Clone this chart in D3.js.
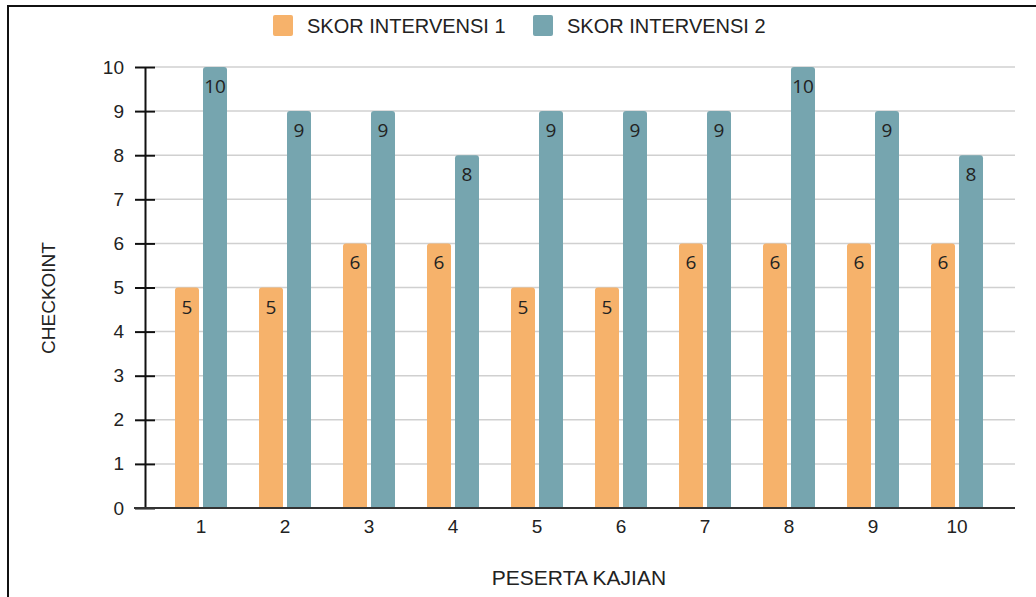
<!DOCTYPE html>
<html>
<head>
<meta charset="utf-8">
<script src="https://cdn.jsdelivr.net/npm/d3@7"></script>
<style>
  body { margin: 0; background: #fff; }
  svg { display: block; font-family: "Liberation Sans", Arial, sans-serif; }
</style>
</head>
<body>
<svg id="chart" width="1036" height="597"></svg>
<script>
// chart data
var participants = ["1", "2", "3", "4", "5", "6", "7", "8", "9", "10"];
var seriesNames = ["SKOR INTERVENSI 1", "SKOR INTERVENSI 2"];
var skor1 = [5, 5, 6, 6, 5, 5, 6, 6, 6, 6];
var skor2 = [10, 9, 9, 8, 9, 9, 9, 10, 9, 8];
var yTicks = [0, 1, 2, 3, 4, 5, 6, 7, 8, 9, 10];
var colors = ["#f6b26b", "#76a5af"];

var svg = d3.select("#chart");

// frame (picture is cropped, only top and left edges show)
svg.append("line").attr("x1", 8).attr("x2", 1036).attr("y1", 6).attr("y2", 6)
  .attr("stroke", "#111").attr("stroke-width", 2);
svg.append("line").attr("x1", 8).attr("x2", 8).attr("y1", 5).attr("y2", 597)
  .attr("stroke", "#111").attr("stroke-width", 2);

var plotLeft = 145, plotRight = 1015, plotTop = 67, plotBottom = 508;

var x = d3.scaleBand().domain(participants).range([159, 999]);
var y = d3.scaleLinear().domain([0, 10]).range([plotBottom, plotTop]);

// gridlines
svg.append("g").selectAll("line").data(yTicks.filter(d => d > 0)).enter()
  .append("line")
  .attr("x1", plotLeft + 10).attr("x2", plotRight)
  .attr("y1", d => y(d)).attr("y2", d => y(d))
  .attr("stroke", "#d0d0d0").attr("stroke-width", 1.5);

// y axis
var yAxis = svg.append("g")
  .attr("transform", `translate(${plotLeft},0)`)
  .call(d3.axisLeft(y).tickValues(yTicks).tickSizeInner(10).tickSizeOuter(0).tickPadding(12));
yAxis.select(".domain").attr("stroke", "#111").attr("stroke-width", 2);
yAxis.selectAll(".tick line").attr("x2", 10).attr("x1", -10).attr("stroke", "#111").attr("stroke-width", 2);
yAxis.selectAll(".tick text").attr("x", -21).attr("font-size", 19).attr("fill", "#222").attr("font-family", null);

// bars
var barW = 24, gap = 4;
var groups = svg.append("g").selectAll("g").data(participants).enter()
  .append("g")
  .attr("transform", d => `translate(${x(d) + x.bandwidth() / 2},0)`);

function roundTop(x0, y0, w, h, r) {
  return `M${x0},${y0 + h}V${y0 + r}Q${x0},${y0} ${x0 + r},${y0}H${x0 + w - r}Q${x0 + w},${y0} ${x0 + w},${y0 + r}V${y0 + h}Z`;
}

[skor1, skor2].forEach(function(vals, s) {
  var off = s === 0 ? -gap / 2 - barW : gap / 2;
  groups.append("path")
    .attr("d", (d, i) => roundTop(off, y(vals[i]), barW, plotBottom - y(vals[i]), 3))
    .attr("fill", colors[s]);
  groups.append("text")
    .attr("x", off + barW / 2)
    .attr("y", (d, i) => y(vals[i]) + 26)
    .attr("text-anchor", "middle")
    .attr("font-size", 19)
    .attr("font-family", "'Open Sans', sans-serif")
    .attr("fill", "#222")
    .attr("stroke", colors[s]).attr("stroke-width", 3).attr("paint-order", "stroke")
    .text((d, i) => vals[i]);
});

// x axis
var xAxis = svg.append("g")
  .attr("transform", `translate(0,${plotBottom})`)
  .call(d3.axisBottom(x).tickSize(0).tickPadding(12));
xAxis.select(".domain").remove();
svg.append("line").attr("x1", 134).attr("x2", plotRight).attr("y1", plotBottom).attr("y2", plotBottom)
  .attr("stroke", "#333").attr("stroke-width", 2);
xAxis.selectAll(".tick text").attr("font-size", 19).attr("fill", "#222").attr("font-family", null);

// axis titles
svg.append("text").attr("x", 579).attr("y", 585).attr("text-anchor", "middle")
  .attr("font-size", 21).attr("fill", "#222").text("PESERTA KAJIAN");
svg.append("text").attr("transform", "translate(55,298) rotate(-90)").attr("text-anchor", "middle")
  .attr("font-size", 19).attr("fill", "#222").text("CHECKOINT");

// legend
var legendX = [273, 533];
var legend = svg.append("g").selectAll("g").data(seriesNames).enter()
  .append("g").attr("transform", (d, i) => `translate(${legendX[i]},15)`);
legend.append("rect").attr("width", 20).attr("height", 21).attr("rx", 2)
  .attr("fill", (d, i) => colors[i]);
legend.append("text").attr("x", 34).attr("y", 18).attr("font-size", 20).attr("fill", "#222")
  .text(d => d);
</script>
</body>
</html>
